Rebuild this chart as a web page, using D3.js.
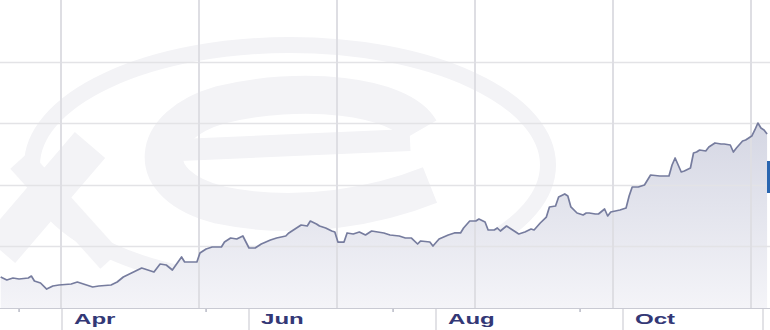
<!DOCTYPE html>
<html>
<head>
<meta charset="utf-8">
<script src="https://cdn.jsdelivr.net/npm/d3@7"></script>
<style>
  html, body { margin: 0; padding: 0; background: #fff; }
  svg { display: block; }
  .mlabel { font-family: "Liberation Sans", Arial, sans-serif; font-size: 14px; font-weight: bold; fill: #333876; }
</style>
</head>
<body>
<svg id="chart" width="770" height="330"></svg>
<script>
/* XE-style rate chart, cropped */
const YEAR = 2010;

const days = [
  '03-12','03-14','03-16','03-18','03-21','03-22','03-23','03-25','03-27','03-29','03-31',
  '04-04','04-06','04-09','04-11','04-13','04-17','04-19','04-21','04-23','04-25','04-27','04-30',
  '05-01','05-03','05-05','05-07','05-10','05-11','05-13','05-15','05-16','05-18','05-20','05-23',
  '05-24','05-26','05-28','05-30',
  '06-01','06-03','06-05','06-08','06-10','06-13','06-14','06-16','06-18','06-20','06-21','06-23',
  '06-24','06-26','06-28','06-29','06-30',
  '07-02','07-03','07-05','07-07','07-09','07-11','07-13','07-15','07-17','07-20','07-22','07-24',
  '07-26','07-27','07-30','07-31',
  '08-02','08-05','08-07','08-09','08-10','08-12','08-14','08-15','08-17','08-18','08-20','08-21',
  '08-22','08-24','08-26','08-28','08-30',
  '09-01','09-02','09-04','09-06','09-07','09-09','09-10','09-12','09-13','09-14','09-16','09-18',
  '09-19','09-20','09-22','09-23','09-25','09-26','09-27','09-30',
  '10-02','10-03','10-04','10-06','10-08','10-10','10-13','10-16','10-17','10-18','10-19','10-20',
  '10-21','10-23','10-24','10-25','10-26','10-28','10-29','10-31',
  '11-02','11-03','11-05','11-06','11-07','11-09','11-10','11-12','11-13','11-14','11-15','11-16','11-17'
];

const rates = [
  105.03,104.55,104.87,104.71,104.87,105.19,104.38,104.06,103.08,103.57,103.73,
  103.90,104.22,103.73,103.41,103.57,103.73,104.22,105.03,105.52,106.01,106.49,106.01,
  105.84,107.14,106.98,106.17,108.28,107.47,107.47,107.47,108.93,109.58,109.90,109.90,
  110.71,111.36,111.20,111.69,
  109.74,109.74,110.39,111.04,111.36,111.69,112.18,112.82,113.47,113.31,114.12,113.64,
  113.31,112.99,112.50,112.34,110.71,
  110.71,112.18,112.01,112.34,111.85,112.50,112.34,112.18,111.85,111.69,111.36,111.36,
  110.39,110.88,110.71,110.06,
  111.20,111.85,112.18,112.18,112.99,114.12,114.12,114.45,113.96,112.66,112.66,112.99,
  112.50,113.31,112.66,112.01,112.34,
  112.82,112.66,113.80,114.77,116.40,116.56,118.02,118.51,118.18,116.40,115.42,115.10,
  115.42,115.42,115.26,115.26,116.07,114.94,115.58,115.91,
  116.23,118.18,119.64,119.64,119.97,121.59,121.43,121.43,123.21,124.35,123.21,122.08,
  122.24,122.73,125.16,125.32,125.65,125.49,126.14,126.79,
  126.62,126.62,126.46,125.32,125.97,127.11,127.27,127.92,128.90,130.03,129.22,128.90,128.25
];

const monthLabels = ['Apr', 'Jun', 'Aug', 'Oct'];
const monthStarts = ['04-01', '06-01', '08-01', '10-01'];
const minorTicks = ['03-18', '05-18', '07-18', '09-17'];
const gridDays = ['04-01', '05-16', '06-30', '08-14', '09-28', '11-12'];
const gridValues = [110, 120, 130, 140];

const parse = s => new Date(Date.UTC(YEAR, +s.slice(0, 2) - 1, +s.slice(3, 5)));
const data = days.map((d, i) => ({ date: parse(d), value: rates[i] }));

const W = 770, H = 330, axisY = 308;
const svg = d3.select('#chart');

const x = d3.scaleUtc()
  .domain([parse('03-01'), parse('12-01')])
  .range([-33.03, 810.0]);
const y = d3.scaleLinear().domain([100, 150]).range([axisY, 0]);

// gradient for the area
const defs = svg.append('defs');
const grad = defs.append('linearGradient')
  .attr('id', 'areaGrad')
  .attr('gradientUnits', 'userSpaceOnUse')
  .attr('x1', 0).attr('x2', 0).attr('y1', 120).attr('y2', axisY);
grad.append('stop').attr('offset', 0).attr('stop-color', '#d4d6e3');
grad.append('stop').attr('offset', 1).attr('stop-color', '#f4f4f8');

// faint watermark
const wm = svg.append('g').attr('fill', 'none').attr('stroke', '#f3f3f6');
wm.append('ellipse').attr('cx', 290).attr('cy', 165).attr('rx', 258).attr('ry', 120)
  .attr('stroke-width', 16);
wm.append('path')
  .attr('d', 'M 420,130 C 400,95 300,85 220,105 C 150,125 140,185 220,205 C 300,222 380,205 430,185')
  .attr('stroke-width', 38);
wm.append('path').attr('d', 'M 180,150 L 410,140').attr('stroke-width', 22);
wm.append('path').attr('d', 'M 0,250 L 90,145').attr('stroke-width', 40);
wm.append('path').attr('d', 'M 20,160 L 110,260').attr('stroke-width', 26);

// grid
const grid = svg.append('g');
grid.selectAll('.hg').data(gridValues).enter().append('line')
  .attr('x1', 0).attr('x2', W)
  .attr('y1', d => Math.round(y(d)) + 0.5).attr('y2', d => Math.round(y(d)) + 0.5)
  .attr('stroke', '#e3e3e6').attr('stroke-width', 1.5);

// area + line
svg.append('path').datum(data)
  .attr('fill', 'url(#areaGrad)')
  .attr('d', d3.area().x(d => x(d.date)).y0(axisY).y1(d => y(d.value)));

grid.raise();
grid.selectAll('.vg').data(gridDays).enter().append('line')
  .attr('x1', d => Math.round(x(parse(d))) - 1).attr('x2', d => Math.round(x(parse(d))) - 1)
  .attr('y1', 0).attr('y2', axisY)
  .attr('stroke', '#dedee3').attr('stroke-width', 2);

svg.append('path').datum(data)
  .attr('fill', 'none')
  .attr('stroke', '#767c9e')
  .attr('stroke-width', 1.7)
  .attr('stroke-linejoin', 'round')
  .attr('d', d3.line().x(d => x(d.date)).y(d => y(d.value)));

// bottom axis
svg.append('rect').attr('x', 0).attr('y', axisY).attr('width', W).attr('height', H - axisY)
  .attr('fill', '#fff');
svg.append('line').attr('x1', 0).attr('x2', W).attr('y1', axisY + 0.5).attr('y2', axisY + 0.5)
  .attr('stroke', '#c9cad3').attr('stroke-width', 1);

const seps = monthStarts.map(parse).map(d => x(d)).concat([763]);
svg.selectAll('.sep').data(seps).enter().append('line')
  .attr('x1', d => Math.round(d)).attr('x2', d => Math.round(d))
  .attr('y1', axisY + 1).attr('y2', H)
  .attr('stroke', '#e2e2e6').attr('stroke-width', 2);

svg.selectAll('.mt').data(minorTicks).enter().append('line')
  .attr('x1', d => x(parse(d))).attr('x2', d => x(parse(d)))
  .attr('y1', axisY + 1).attr('y2', axisY + 4)
  .attr('stroke', '#b8bac6').attr('stroke-width', 1.5);

svg.selectAll('.mlabel').data(monthLabels).enter().append('text')
  .attr('class', 'mlabel')
  .attr('transform', (d, i) => `translate(${x(parse(monthStarts[i])) + 12},${H - 6}) scale(1.72,1)`)
  .text(d => d);

// edge of the current-rate tag
svg.append('rect').attr('x', 767).attr('y', 161).attr('width', 4).attr('height', 32)
  .attr('fill', '#2a66b0');
</script>
</body>
</html>
